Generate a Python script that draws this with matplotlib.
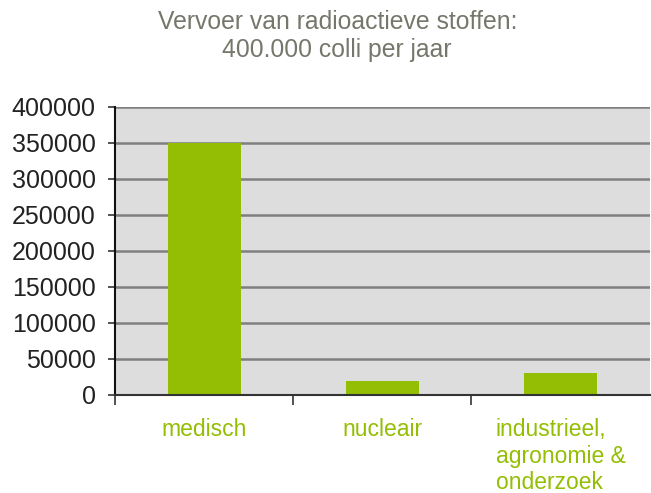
import matplotlib.pyplot as plt

categories = ["medisch", "nucleair", "industrieel,\nagronomie &\nonderzoek"]
values = [350000, 20000, 30000]
yticks = [0, 50000, 100000, 150000, 200000, 250000, 300000, 350000, 400000]

plt.rcParams['font.family'] = ['Liberation Sans', 'DejaVu Sans']

fig = plt.figure(figsize=(6.51, 4.93), dpi=100)
ax = fig.add_axes([0.1767, 0.1988, 0.8213, 0.5842])
ax.set_facecolor("#dddddd")

x = list(range(len(categories)))
ax.bar(x, values, width=0.41, color="#93be03", zorder=3)

ax.set_xlim(-0.5, len(categories) - 0.5)
ax.set_ylim(0, 400000)
ax.set_yticks(yticks)
ax.set_yticklabels([str(v) for v in yticks], fontsize=18, color="#222222")
ax.yaxis.grid(True, color="#7f7f7f", linewidth=1.8, zorder=1)

# category labels at centres, ticks at boundaries
ax.set_xticks(x)
ax.set_xticklabels(categories, fontsize=16.5, color="#93be03", linespacing=1.2,
                   multialignment="left", va="top")
ax.set_xticks([-0.5, 0.5, 1.5], minor=True)
ax.tick_params(axis="x", which="major", length=0, pad=16.5)
ax.tick_params(axis="x", which="minor", length=7, width=1.2, color="#333333", direction="out")
ax.tick_params(axis="y", length=5, width=1.2, color="#333333", pad=9)

for side in ["top", "right"]:
    ax.spines[side].set_visible(False)
ax.spines["left"].set_color("#111111")
ax.spines["left"].set_linewidth(1.5)
ax.spines["bottom"].set_color("#333333")
ax.spines["bottom"].set_linewidth(1.5)
ax.spines["bottom"].set_zorder(4)

fig.text(0.518, 0.927, "Vervoer van radioactieve stoffen:\n400.000 colli per jaar",
         ha="center", va="center", fontsize=17.8, color="#76776a", linespacing=1.2)

plt.savefig("out.png", dpi=100)
